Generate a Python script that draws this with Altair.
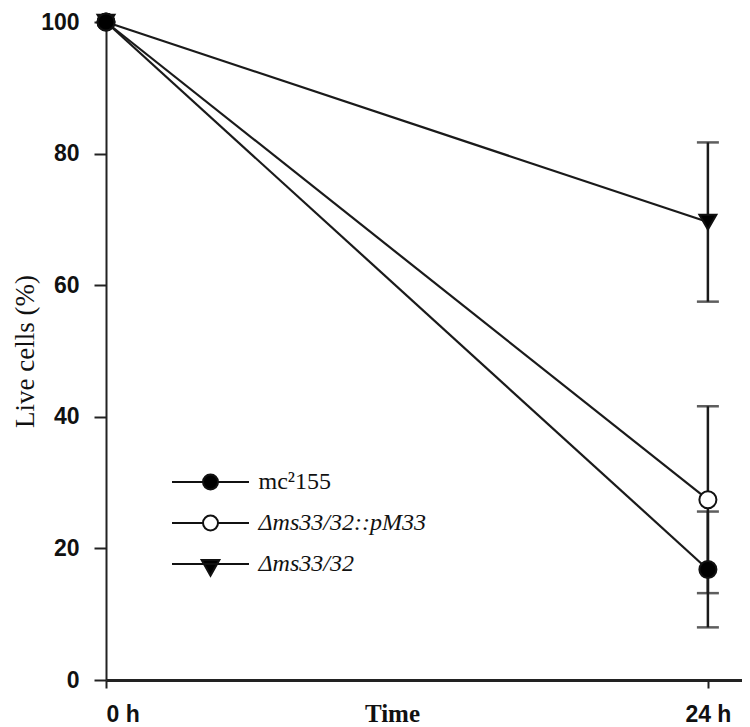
import altair as alt
import pandas as pd

# ---- data ----
series = ["mc\u00b2155", "\u0394ms33/32::pM33", "\u0394ms33/32"]
hours = [0, 24]
values = {
    "mc\u00b2155": [100, 16.8],
    "\u0394ms33/32::pM33": [100, 27.4],
    "\u0394ms33/32": [100, 69.6],
}
errors = {
    "mc\u00b2155": [0, 8.8],
    "\u0394ms33/32::pM33": [0, 14.2],
    "\u0394ms33/32": [0, 12.1],
}
fills = ["black", "white", "black"]
shapes = ["circle", "circle", "triangle-down"]
y_ticks = [0, 20, 40, 60, 80, 100]
x_ticks = [0, 24]

rows = []
for i, s in enumerate(series):
    for h, v, e in zip(hours, values[s], errors[s]):
        rows.append({"series": s, "marker": shapes[i], "ord": -i,
                     "hours": h, "value": v, "err": e,
                     "lo": v - e, "hi": v + e})
df = pd.DataFrame(rows)
err_df = df[df["err"] > 0].copy()
caps = pd.concat([
    err_df.assign(cap=err_df["lo"]),
    err_df.assign(cap=err_df["hi"]),
])

# legend symbols: line with marker (unit coordinates)
circ = "M-5.13,0H-1M1,0H5.13M-1,0A1,1 0 1,1 1,0A1,1 0 1,1 -1,0Z"
tri = "M-5.13,0H5.13M-1.18,-0.53L1.18,-0.53L0,1.56Z"
legend_paths = {series[0]: circ, series[1]: circ, series[2]: tri}
shape_expr = " : ".join(
    [f"datum.value === '{k}' ? '{p}'" for k, p in legend_paths.items()]
) + " : 'circle'"
style_expr = f"datum.value === '{series[0]}' ? 'normal' : 'italic'"

x_scale = alt.Scale(domain=[0, 25.36], nice=False, zero=False)
y_scale = alt.Scale(domain=[0, 100], nice=False)

x_axis = alt.Axis(
    values=x_ticks, labelExpr="datum.value + ' h'", title="Time",
    grid=False, domainColor="#222", domainWidth=3, tickColor="#222",
    tickWidth=2, tickSize=8, labelFont="Liberation Sans", labelFontSize=23,
    labelFontWeight="bold", labelColor="#111", labelPadding=15,
    titleFont="Liberation Serif", titleFontSize=25, titleFontWeight="bold",
    titleColor="#111", titleX=286, titleY=21, titleBaseline="top",
    titleAnchor="start", titleAlign="center",
)
y_axis = alt.Axis(
    values=y_ticks, title="Live cells (%)", grid=False, domainColor="#222",
    domainWidth=2, tickColor="#222", tickWidth=2, tickSize=12,
    labelFont="Liberation Sans", labelFontSize=23, labelFontWeight="bold",
    labelColor="#111", labelPadding=15,
    titleFont="Liberation Serif", titleFontSize=27, titleFontWeight="normal",
    titleColor="#111", titleAngle=-90, titleX=-81, titleY=329,
    titleBaseline="middle", titleAlign="center",
)

base = alt.Chart(df)

lines = base.mark_line(color="#1a1a1a", strokeWidth=2.2).encode(
    x=alt.X("hours:Q", scale=x_scale, axis=x_axis),
    y=alt.Y("value:Q", scale=y_scale, axis=y_axis),
    detail="series:N",
)

rules = alt.Chart(err_df).mark_rule(color="#1a1a1a", strokeWidth=2.5).encode(
    x=alt.X("hours:Q", scale=x_scale),
    y=alt.Y("lo:Q", scale=y_scale),
    y2="hi:Q",
)

cap_marks = alt.Chart(caps).mark_tick(
    color="#1a1a1a", orient="horizontal", size=22, thickness=2.5
).encode(
    x=alt.X("hours:Q", scale=x_scale),
    y=alt.Y("cap:Q", scale=y_scale),
    detail="series:N",
)

legend = alt.Legend(
    title=None, orient="none", legendX=92.5, legendY=448, padding=0,
    labelFont="Liberation Serif", labelFontSize=24, labelColor="#111",
    labelOffset=36, labelLimit=400, rowPadding=17, symbolSize=225,
    symbolStrokeWidth=2, symbolStrokeColor="#111",
    symbolType=alt.ExprRef(shape_expr),
    labelFontStyle=alt.ExprRef(style_expr),
)

points = base.mark_point(
    filled=True, stroke="#111", strokeWidth=2, size=290, opacity=1
).encode(
    x=alt.X("hours:Q", scale=x_scale),
    y=alt.Y("value:Q", scale=y_scale),
    fill=alt.Fill("series:N", scale=alt.Scale(domain=series, range=fills),
                  legend=legend),
    shape=alt.Shape("marker:N", scale=None),
    order=alt.Order("ord:Q"),
)

chart = alt.layer(rules, cap_marks, lines, points).properties(
    width=636, height=658,
    autosize=alt.AutoSizeParams(type="none"),
    padding={"left": 98, "top": 14, "right": 0, "bottom": 47},
    background="white",
).configure_view(stroke=None)

chart.save("out.html", embed_options={"renderer": "svg", "actions": False})
